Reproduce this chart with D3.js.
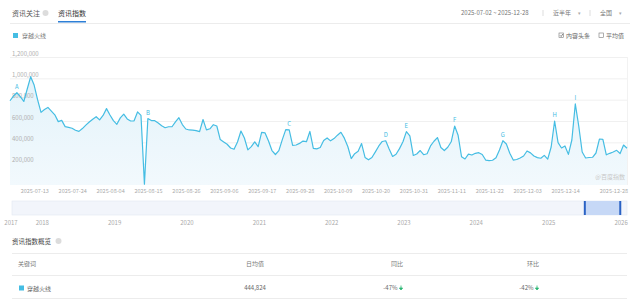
<!DOCTYPE html>
<html>
<head>
<meta charset="utf-8">
<script src="https://cdn.jsdelivr.net/npm/d3@7"></script>
<style>
  body { margin: 0; background: #fff; }
  svg text { font-family: "Noto Sans CJK SC", "Noto Sans", sans-serif; }
</style>
</head>
<body>
<svg id="chart" width="640" height="304"></svg>
<script>
// series name + date span
var seriesName = '穿越火线';
var startDate = '2025-07-02';
var endDate = '2025-12-28';

// daily index values, one per day from 2025-07-02
var dailyValues = [
    790000, 834000, 865000, 828000, 783000, 900000, 1015000, 937000, 800000, 681000,
    707000, 727000, 692000, 658000, 594000, 606000, 547000, 540000, 532000, 513000,
    503000, 529000, 561000, 590000, 617000, 640000, 611000, 652000, 716000, 656000,
    603000, 569000, 629000, 664000, 619000, 600000, 602000, 685000, 652000, 8000,
    623000, 604000, 603000, 581000, 555000, 537000, 546000, 546000, 591000, 631000,
    567000, 525000, 516000, 515000, 510000, 501000, 614000, 517000, 527000, 565000,
    553000, 426000, 404000, 382000, 347000, 335000, 403000, 506000, 441000, 329000,
    360000, 405000, 359000, 494000, 488000, 413000, 323000, 286000, 322000, 425000,
    519000, 516000, 372000, 375000, 390000, 412000, 406000, 502000, 344000, 339000,
    351000, 417000, 441000, 414000, 435000, 467000, 494000, 439000, 361000, 248000,
    294000, 316000, 388000, 258000, 236000, 258000, 311000, 366000, 408000, 415000,
    338000, 268000, 288000, 341000, 405000, 500000, 461000, 277000, 291000, 323000,
    284000, 293000, 366000, 410000, 445000, 352000, 323000, 354000, 405000, 553000,
    466000, 265000, 244000, 290000, 281000, 297000, 303000, 286000, 234000, 229000,
    232000, 255000, 328000, 415000, 384000, 297000, 234000, 239000, 253000, 272000,
    319000, 301000, 272000, 257000, 251000, 278000, 243000, 356000, 600000, 397000,
    347000, 366000, 287000, 422000, 760000, 553000, 309000, 253000, 258000, 260000,
    300000, 431000, 428000, 283000, 297000, 309000, 325000, 295000, 375000, 344000
];

// event markers on the line
var markerLetters = ['A', 'B', 'C', 'D', 'E', 'F', 'G', 'H', 'I'];
var markerDates = ['2025-07-04', '2025-08-11', '2025-09-21', '2025-10-19', '2025-10-25',
                   '2025-11-08', '2025-11-22', '2025-12-07', '2025-12-13'];

// axis ticks
var yTicks = [200000, 400000, 600000, 800000, 1000000, 1200000];
var xTickLabels = ['2025-07-13', '2025-07-24', '2025-08-04', '2025-08-15', '2025-08-26',
                   '2025-09-06', '2025-09-17', '2025-09-28', '2025-10-09', '2025-10-20',
                   '2025-10-31', '2025-11-11', '2025-11-22', '2025-12-03', '2025-12-14',
                   '2025-12-28'];

// range navigator years
var navYears = ['2017', '2018', '2019', '2020', '2021', '2022', '2023', '2024', '2025', '2026'];

// overview table
var tableHeaders = ['关键词', '日均值', '同比', '环比'];
var tableAvg = '444,824';
var tableYoY = '-47%';
var tableMoM = '-42%';

var lineColor = '#45bde3';
var parseDate = d3.timeParse('%Y-%m-%d');

var svg = d3.select('#chart');

var data = dailyValues.map(function(v, i) {
    return { date: d3.timeDay.offset(parseDate(startDate), i), value: v };
});

// ---------- header ----------
svg.append('text').attr('x', 12).attr('y', 15.5).attr('font-size', 7).attr('fill', '#555').text('资讯关注');
svg.append('circle').attr('cx', 45.5).attr('cy', 13).attr('r', 3).attr('fill', '#dcdcdc');
svg.append('text').attr('x', 58).attr('y', 15.5).attr('font-size', 7).attr('fill', '#333').text('资讯指数');
svg.append('rect').attr('x', 58).attr('y', 21).attr('width', 28).attr('height', 1.5).attr('fill', '#2d7fd6');
svg.append('line').attr('x1', 10).attr('x2', 630).attr('y1', 23.5).attr('y2', 23.5).attr('stroke', '#ececec');

svg.append('text').attr('x', 461).attr('y', 15).attr('font-size', 6).attr('fill', '#777')
    .text(startDate + ' ~ ' + endDate);
svg.append('line').attr('x1', 543).attr('x2', 543).attr('y1', 10).attr('y2', 16).attr('stroke', '#ddd');
svg.append('text').attr('x', 553).attr('y', 15).attr('font-size', 6).attr('fill', '#777').text('近半年');
svg.append('text').attr('x', 578).attr('y', 15).attr('font-size', 5).attr('fill', '#aaa').text('▾');
svg.append('line').attr('x1', 590).attr('x2', 590).attr('y1', 10).attr('y2', 16).attr('stroke', '#ddd');
svg.append('text').attr('x', 600).attr('y', 15).attr('font-size', 6).attr('fill', '#777').text('全国');
svg.append('text').attr('x', 619).attr('y', 15).attr('font-size', 5).attr('fill', '#aaa').text('▾');

// checkboxes
svg.append('rect').attr('x', 559).attr('y', 33).attr('width', 4.5).attr('height', 4.5)
    .attr('fill', '#fff').attr('stroke', '#777').attr('stroke-width', 0.6);
svg.append('path').attr('d', 'M560,35.3 L561.2,36.5 L562.8,34').attr('fill', 'none')
    .attr('stroke', '#555').attr('stroke-width', 0.7);
svg.append('text').attr('x', 566).attr('y', 37.8).attr('font-size', 6).attr('fill', '#666').text('内容头条');
svg.append('rect').attr('x', 599).attr('y', 33).attr('width', 4.5).attr('height', 4.5)
    .attr('fill', '#fff').attr('stroke', '#777').attr('stroke-width', 0.6);
svg.append('text').attr('x', 606).attr('y', 37.8).attr('font-size', 6).attr('fill', '#666').text('平均值');

// legend
svg.append('rect').attr('x', 13).attr('y', 33).attr('width', 5).attr('height', 5).attr('fill', lineColor);
svg.append('text').attr('x', 22).attr('y', 38).attr('font-size', 6).attr('fill', '#777').text(seriesName);

// ---------- main chart ----------
var x = d3.scaleTime()
    .domain([parseDate(startDate), parseDate(endDate)])
    .range([10, 627]);
var y = d3.scaleLinear()
    .domain([0, 1200000])
    .range([185, 57]);

// grid lines
var grid = svg.append('g').attr('class', 'grid');
grid.selectAll('line')
    .data(yTicks)
    .enter().append('line')
    .attr('x1', 10).attr('x2', 627)
    .attr('y1', function(d) { return y(d) + 0.5; })
    .attr('y2', function(d) { return y(d) + 0.5; })
    .attr('stroke', '#f0f0f0');
grid.append('line').attr('x1', 627.5).attr('x2', 627.5).attr('y1', 57).attr('y2', 185).attr('stroke', '#f2f2f2');

var area = d3.area()
    .x(function(d) { return x(d.date); })
    .y0(y(0))
    .y1(function(d) { return y(d.value); });
var line = d3.line()
    .x(function(d) { return x(d.date); })
    .y(function(d) { return y(d.value); });

var grad = svg.append('defs').append('linearGradient')
    .attr('id', 'fillGrad').attr('x1', 0).attr('x2', 0).attr('y1', 0).attr('y2', 1);
grad.append('stop').attr('offset', '0%').attr('stop-color', '#e3f3fa');
grad.append('stop').attr('offset', '100%').attr('stop-color', '#f2f9fd');

svg.append('path').datum(data).attr('d', area).attr('fill', 'url(#fillGrad)');

// y labels sit inside the plot, above their grid line (over the fill, under the line)
svg.append('g').attr('class', 'y-labels')
    .selectAll('text')
    .data(yTicks)
    .enter().append('text')
    .attr('x', 12)
    .attr('y', function(d) { return y(d) - 1.5; })
    .attr('font-size', 6)
    .attr('fill', '#b0b0b0')
    .text(function(d) { return d3.format(',')(d); });

svg.append('path').datum(data).attr('d', line)
    .attr('fill', 'none').attr('stroke', lineColor).attr('stroke-width', 1.2)
    .attr('stroke-linejoin', 'round');

// x tick labels, right-aligned on their date
svg.append('g').attr('class', 'x-axis')
    .selectAll('text')
    .data(xTickLabels)
    .enter().append('text')
    .attr('x', function(d) { return x(parseDate(d)) + 1; })
    .attr('y', 192.5)
    .attr('text-anchor', 'end')
    .attr('font-size', 5.5)
    .attr('fill', '#aaa')
    .text(function(d) { return d; });

// event letters
var byDate = {};
data.forEach(function(d) { byDate[d3.timeFormat('%Y-%m-%d')(d.date)] = d.value; });
svg.append('g').attr('class', 'markers')
    .selectAll('text')
    .data(markerLetters)
    .enter().append('text')
    .attr('x', function(d, i) { return x(parseDate(markerDates[i])); })
    .attr('y', function(d, i) { return y(byDate[markerDates[i]]) - 4; })
    .attr('text-anchor', 'middle')
    .attr('font-size', 6)
    .attr('fill', lineColor)
    .text(function(d) { return d; });

svg.append('text').attr('x', 625).attr('y', 179).attr('text-anchor', 'end')
    .attr('font-size', 6).attr('fill', '#c8c8c8').text('@百度指数');

// ---------- range navigator ----------
var nx = d3.scaleTime()
    .domain([new Date(2017, 7, 1), new Date(2026, 0, 31)])
    .range([12, 627]);

svg.append('rect').attr('x', 12).attr('y', 201).attr('width', 615).attr('height', 14)
    .attr('fill', '#f2f5fb').attr('stroke', '#e2e7f1').attr('stroke-width', 0.6);
var selX0 = nx(parseDate(startDate)), selX1 = nx(parseDate(endDate));
svg.append('rect').attr('x', selX0).attr('y', 201).attr('width', selX1 - selX0).attr('height', 14)
    .attr('fill', '#c6d8f6');
[selX0, selX1].forEach(function(h) {
    svg.append('rect').attr('x', h - 1).attr('y', 201).attr('width', 2).attr('height', 14).attr('fill', '#2a62c4');
});

svg.append('g').attr('class', 'nav-axis')
    .selectAll('text')
    .data(navYears)
    .enter().append('text')
    .attr('x', function(d) { return Math.max(nx(new Date(+d, 0, 1)), 11); })
    .attr('y', 225)
    .attr('text-anchor', 'middle')
    .attr('font-size', 6)
    .attr('fill', '#aaa')
    .text(function(d) { return d; });

// ---------- overview table ----------
svg.append('text').attr('x', 12).attr('y', 243.5).attr('font-size', 6.5).attr('fill', '#444').text('资讯指数概览');
svg.append('circle').attr('cx', 58.5).attr('cy', 241).attr('r', 3).attr('fill', '#dcdcdc');
[253.5, 275.5, 298.5].forEach(function(ly) {
    svg.append('line').attr('x1', 12).attr('x2', 627).attr('y1', ly).attr('y2', ly).attr('stroke', '#ececec');
});

var colX = [18, 255, 397, 533];
svg.append('g').selectAll('text')
    .data(tableHeaders)
    .enter().append('text')
    .attr('x', function(d, i) { return colX[i]; })
    .attr('y', 266)
    .attr('text-anchor', function(d, i) { return i === 0 ? 'start' : 'middle'; })
    .attr('font-size', 6)
    .attr('fill', '#777')
    .text(function(d) { return d; });

svg.append('rect').attr('x', 19).attr('y', 285.5).attr('width', 5).attr('height', 5).attr('fill', lineColor);
svg.append('text').attr('x', 27).attr('y', 290.5).attr('font-size', 6).attr('fill', '#666').text(seriesName);
svg.append('text').attr('x', colX[1]).attr('y', 290).attr('text-anchor', 'middle')
    .attr('font-size', 6).attr('fill', '#666').text(tableAvg);
[[colX[2], tableYoY], [colX[3], tableMoM]].forEach(function(c) {
    svg.append('text').attr('x', c[0] + 0.5).attr('y', 290).attr('text-anchor', 'end')
        .attr('font-size', 6).attr('fill', '#666').text(c[1]);
    // small green down arrow
    var ax = c[0] + 4;
    svg.append('path')
        .attr('d', 'M' + ax + ',285.5 L' + ax + ',288.5 M' + (ax - 1.6) + ',288 L' + ax + ',290 L' + (ax + 1.6) + ',288 Z')
        .attr('fill', '#2bb673').attr('stroke', '#2bb673').attr('stroke-width', 0.8);
});
</script>
</body>
</html>
